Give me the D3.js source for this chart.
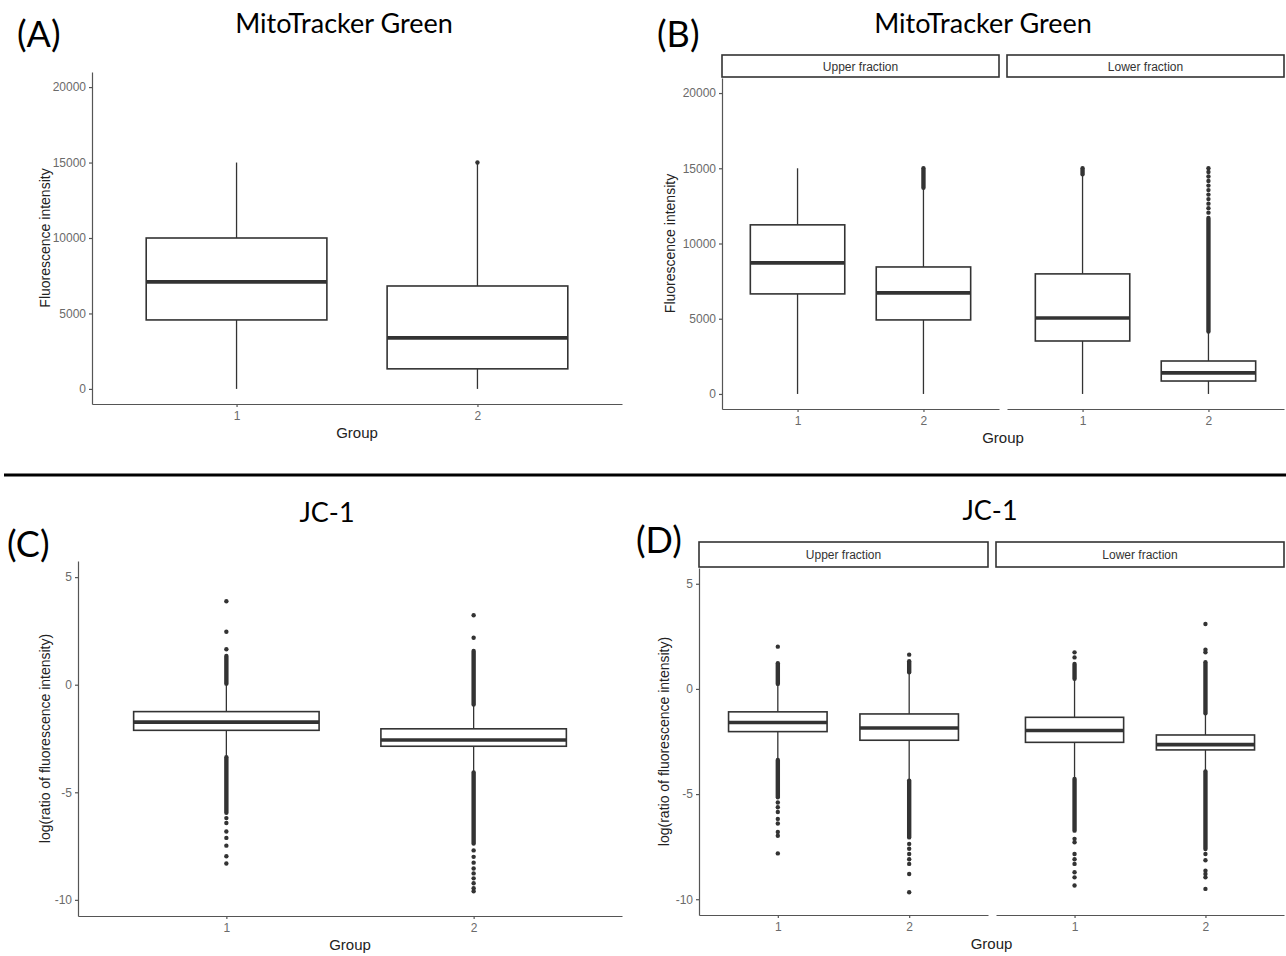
<!DOCTYPE html>
<html>
<head>
<meta charset="utf-8">
<script src="https://cdn.jsdelivr.net/npm/d3@7"></script>
<style>
  body { margin: 0; background: #fff; }
  .tick text { fill: #6a6a6a; font: 12px "Liberation Sans", Arial, sans-serif; }
  .tick line, .domain { stroke: #555; stroke-width: 1.2; }
</style>
</head>
<body>
<div id="chart"></div>
<script>
const groups = ["1", "2"];
const fractions = ["Upper fraction", "Lower fraction"];

// box stats: [lower whisker, q1, median, q3, upper whisker]
// (A) MitoTracker Green, all cells
const mitoStats = [[0, 4570, 7090, 10000, 15000], [0, 1330, 3380, 6820, 14950]];
const mitoRuns = [[], []];
const mitoPoints = [[], [15000]];

// (B) MitoTracker Green by fraction: upper g1, upper g2, lower g1, lower g2
const mitoFracStats = [
  [0, 6650, 8710, 11240, 15000], [0, 4920, 6720, 8440, 13650],
  [0, 3520, 5050, 7980, 14550], [0, 860, 1400, 2190, 4150]
];
const mitoFracRuns = [[], [[13700, 15000]], [[14600, 15000]], [[4150, 11700]]];
const mitoFracPoints = [[], [], [],
  [12050, 12350, 12650, 12950, 13250, 13550, 13850, 14150, 14450, 14750, 15000]];

// (C) JC-1, all cells
const jcStats = [[-3.37, -2.12, -1.74, -1.25, 0.05], [-4.08, -2.86, -2.57, -2.05, -0.92]];
const jcRuns = [[[0.05, 1.34], [-5.95, -3.37]], [[-0.92, 1.57], [-7.38, -4.08]]];
const jcPoints = [
  [1.65, 2.46, 3.88, -6.2, -6.43, -6.82, -7.12, -7.48, -7.97, -8.31],
  [2.18, 3.23, -7.7, -8.0, -8.27, -8.54, -8.77, -9.0, -9.23, -9.46, -9.6]
];

// (D) JC-1 by fraction: upper g1, upper g2, lower g1, lower g2
const jcFracStats = [
  [-3.38, -2.03, -1.6, -1.09, 0.24], [-4.36, -2.44, -1.86, -1.19, 0.79],
  [-4.28, -2.54, -1.98, -1.35, 0.48], [-3.93, -2.9, -2.65, -2.19, -1.16]
];
const jcFracRuns = [
  [[0.24, 1.22], [-5.15, -3.38]], [[0.79, 1.32], [-7.06, -4.36]],
  [[0.48, 1.19], [-6.74, -4.28]], [[-1.16, 1.27], [-7.61, -3.93]]
];
const jcFracPoints = [
  [2.01, -5.4, -5.63, -5.85, -6.18, -6.4, -6.8, -6.98, -7.82],
  [1.63, -7.37, -7.6, -7.85, -8.1, -8.32, -8.8, -9.67],
  [1.5, 1.74, -7.13, -7.29, -7.85, -8.1, -8.32, -8.72, -8.96, -9.35],
  [1.74, 1.86, 3.09, -7.85, -8.15, -8.64, -8.8, -8.96, -9.51]
];

const mitoTicks = [0, 5000, 10000, 15000, 20000];
const jcTicks = [-10, -5, 0, 5];

const svg = d3.select("#chart").append("svg")
  .attr("width", 1286).attr("height", 956);

const ink = "#333";

function drawPanel(p) {
  const y = d3.scaleLinear().domain(p.yDomain).range([p.bottom, p.top]);
  const g = svg.append("g");

  // y axis on the first facet only
  g.append("g")
    .attr("transform", `translate(${p.facets[0][0]},0)`)
    .call(d3.axisLeft(y).tickValues(p.ticks).tickFormat(d => String(d))
      .tickSize(3).tickSizeOuter(0).tickPadding(3));

  p.facets.forEach((fx, fi) => {
    const x = d3.scalePoint().domain(groups).range(fx).padding(0.6);
    const bw = x.step() * 0.75;

    g.append("g")
      .attr("transform", `translate(0,${p.bottom})`)
      .call(d3.axisBottom(x).tickSize(3).tickSizeOuter(0).tickPadding(4));

    if (p.strips) {
      g.append("rect")
        .attr("x", fx[0]).attr("y", p.stripTop)
        .attr("width", fx[1] - fx[0]).attr("height", p.top - p.stripTop - 1)
        .attr("fill", "#fff").attr("stroke", ink).attr("stroke-width", 1.6);
      g.append("text")
        .attr("x", (fx[0] + fx[1]) / 2).attr("y", (p.stripTop + p.top) / 2 + 4)
        .attr("text-anchor", "middle")
        .style("font", "12px 'Liberation Sans Narrow', 'Liberation Sans', sans-serif")
        .attr("fill", "#333")
        .text(p.strips[fi]);
    }

    groups.forEach((grp, gi) => {
      const k = fi * groups.length + gi;
      const s = p.stats[k];
      const cx = x(grp);
      const box = g.append("g");
      // whiskers
      box.append("line").attr("x1", cx).attr("x2", cx)
        .attr("y1", y(s[0])).attr("y2", y(s[1]))
        .attr("stroke", ink).attr("stroke-width", 1.3);
      box.append("line").attr("x1", cx).attr("x2", cx)
        .attr("y1", y(s[3])).attr("y2", y(s[4]))
        .attr("stroke", ink).attr("stroke-width", 1.3);
      // outlier runs (overplotted points)
      box.selectAll(".run").data(p.runs[k]).enter().append("line")
        .attr("x1", cx).attr("x2", cx)
        .attr("y1", d => y(d[0])).attr("y2", d => y(d[1]))
        .attr("stroke", ink).attr("stroke-width", 4.4).attr("stroke-linecap", "round");
      box.selectAll(".pt").data(p.points[k]).enter().append("circle")
        .attr("cx", cx).attr("cy", d => y(d)).attr("r", 2.2).attr("fill", ink);
      // box
      box.append("rect")
        .attr("x", cx - bw / 2).attr("width", bw)
        .attr("y", y(s[3])).attr("height", y(s[1]) - y(s[3]))
        .attr("fill", "#fff").attr("stroke", ink).attr("stroke-width", 1.6);
      box.append("line")
        .attr("x1", cx - bw / 2).attr("x2", cx + bw / 2)
        .attr("y1", y(s[2])).attr("y2", y(s[2]))
        .attr("stroke", ink).attr("stroke-width", 3.6);
    });
  });

  const left = p.facets[0][0], right = p.facets[p.facets.length - 1][1];
  g.append("text")
    .attr("x", (left + right) / 2).attr("y", p.bottom + 34)
    .attr("text-anchor", "middle")
    .style("font", "15px 'Liberation Sans', Arial, sans-serif").attr("fill", "#222")
    .text("Group");
  g.append("text")
    .attr("transform", `translate(${p.yLabelX},${(p.top + p.bottom) / 2}) rotate(-90)`)
    .attr("text-anchor", "middle")
    .style("font", "14px 'Liberation Sans', Arial, sans-serif").attr("fill", "#222")
    .text(p.yLabel);

  svg.append("text")
    .attr("x", p.titleX).attr("y", p.titleY)
    .attr("text-anchor", "middle")
    .style("font", "27px Lato, 'Open Sans', sans-serif").attr("fill", "#000")
    .text(p.title);
  svg.append("text")
    .attr("x", p.tagX).attr("y", p.tagY)
    .style("font", "36px Lato, 'Open Sans', sans-serif").attr("fill", "#000")
    .text(p.tag);
}

drawPanel({
  tag: "(A)", tagX: 17, tagY: 47, title: "MitoTracker Green", titleX: 344, titleY: 33,
  facets: [[92, 622]], top: 72, bottom: 404, yDomain: [-1000, 21000], ticks: mitoTicks,
  stats: mitoStats, runs: mitoRuns, points: mitoPoints,
  yLabel: "Fluorescence intensity", yLabelX: 50
});
drawPanel({
  tag: "(B)", tagX: 657, tagY: 47, title: "MitoTracker Green", titleX: 983, titleY: 33,
  facets: [[722, 999], [1007, 1284]], top: 78, bottom: 409, stripTop: 55, strips: fractions,
  yDomain: [-1000, 21000], ticks: mitoTicks,
  stats: mitoFracStats, runs: mitoFracRuns, points: mitoFracPoints,
  yLabel: "Fluorescence intensity", yLabelX: 675
});
drawPanel({
  tag: "(C)", tagX: 7, tagY: 557, title: "JC-1", titleX: 327, titleY: 522,
  facets: [[78, 622]], top: 561, bottom: 916, yDomain: [-10.75, 5.75], ticks: jcTicks,
  stats: jcStats, runs: jcRuns, points: jcPoints,
  yLabel: "log(ratio of fluorescence intensity)", yLabelX: 50
});
drawPanel({
  tag: "(D)", tagX: 636, tagY: 553, title: "JC-1", titleX: 990, titleY: 520,
  facets: [[699, 988], [996, 1284]], top: 568, bottom: 915, stripTop: 542, strips: fractions,
  yDomain: [-10.75, 5.75], ticks: jcTicks,
  stats: jcFracStats, runs: jcFracRuns, points: jcFracPoints,
  yLabel: "log(ratio of fluorescence intensity)", yLabelX: 669
});

// separator between the two rows
svg.append("line")
  .attr("x1", 4).attr("x2", 1286).attr("y1", 475).attr("y2", 475)
  .attr("stroke", "#000").attr("stroke-width", 3);
</script>
</body>
</html>
